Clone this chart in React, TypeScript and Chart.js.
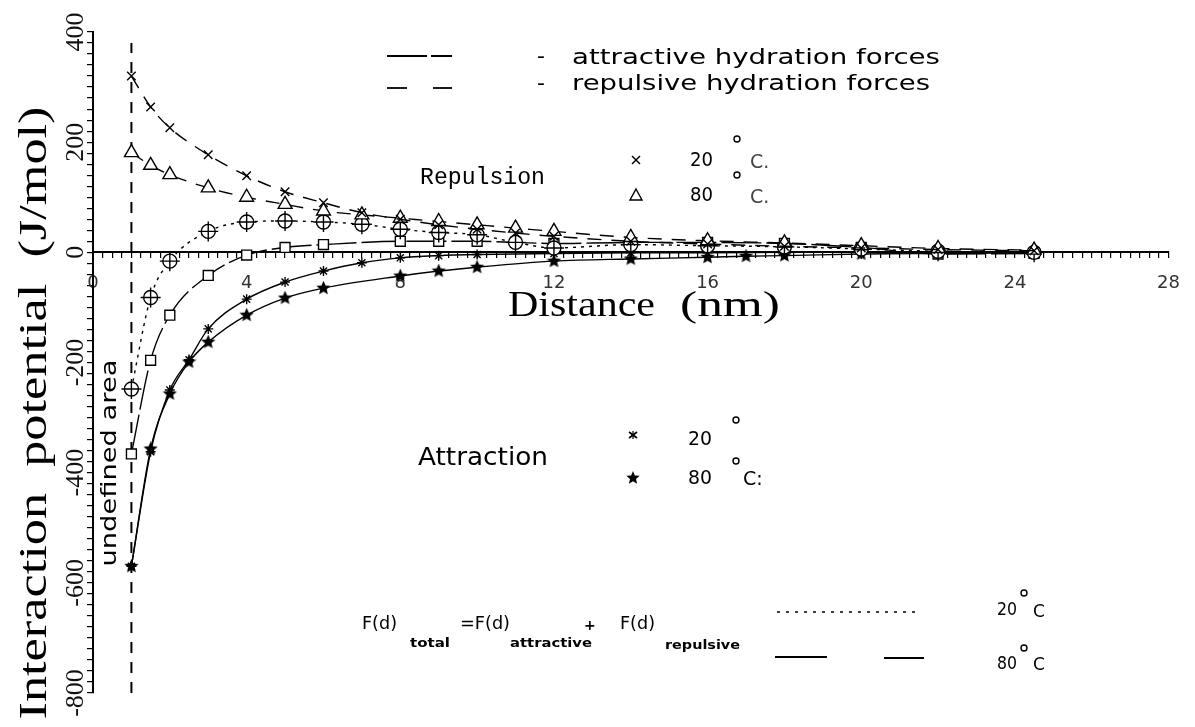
import { useEffect, useRef } from 'react';
import { Chart, registerables } from 'chart.js';

Chart.register(...registerables);

// ---------------- data ----------------
const xTickValues = [0, 4, 8, 12, 16, 20, 24, 28];
const xTickLabels = ['0', '4', '8', '12', '16', '20', '24', '28'];
const yTickValues = [400, 200, 0, -200, -400, -600, -800];
const yTickLabels = ['400', '200', '0', '-200', '-400', '-600', '-800'];

// repulsive hydration forces
const repX = [1, 1.5, 2, 3, 4, 5, 6, 7, 8, 9, 10, 11, 12, 14, 16, 18, 20, 22, 24.5];
const rep20 = [320, 264, 226, 177, 139, 110, 90, 72, 60, 50, 42, 35, 29, 20, 15, 11, 8, 5, 3];
const rep80 = [181, 158, 141, 117, 100, 87, 75, 68, 62, 56, 50, 44, 38, 27, 21, 17, 12, 7, 4];

// total forces
const total20X = [1, 1.5, 2, 3, 4, 5, 6, 7, 8, 9, 10, 11, 12, 14, 16, 18, 20, 22, 24.5];
const total20 = [-248, -82, -16, 38, 55, 57, 55, 51, 42, 36, 32, 18, 8, 14, 12, 10, 6, 2, 0];
const total80X = [1, 1.5, 2, 3, 4, 5, 6, 8, 9, 10, 11, 12, 14, 16, 18, 20, 22, 24.5];
const total80 = [-366, -196, -114, -42, -5, 9, 14, 20, 20, 20, 18, 16, 18, 18, 16, 9, -3, -2];

// attractive hydration forces
const att20X = [1, 1.5, 2, 2.5, 3, 4, 5, 6, 7, 8, 9, 10, 12, 14, 16, 18, 20, 22, 24.5];
const att20 = [-570, -362, -250, -195, -139, -85, -54, -34, -19, -10, -6, -4, -2, -1, -1, 0, 0, 0, 0];
const att80X = [1, 1.5, 2, 2.5, 3, 4, 5, 6, 8, 9, 10, 12, 14, 16, 17, 18, 20, 22, 24.5];
const att80 = [-570, -357, -257, -199, -163, -114, -83, -65, -43, -34, -27, -16, -12, -9, -7, -6, -3, -2, -1];

// "undefined area" boundary
const boundaryX = [1, 1];
const boundaryY = [-800, 380];

const pts = (xs: number[], ys: number[]) => xs.map((x, i) => ({ x, y: ys[i] }));

function makeStar(size: number): HTMLCanvasElement {
  const c = document.createElement('canvas');
  c.width = size;
  c.height = size;
  const g = c.getContext('2d')!;
  g.fillStyle = '#000';
  starPath(g, size / 2, size / 2, size / 2);
  g.fill();
  return c;
}

function starPath(g: CanvasRenderingContext2D, cx: number, cy: number, r: number) {
  g.beginPath();
  for (let i = 0; i < 10; i++) {
    const rr = i % 2 ? r * 0.45 : r;
    const a = -Math.PI / 2 + (i * Math.PI) / 5;
    const px = cx + rr * Math.cos(a);
    const py = cy + rr * Math.sin(a);
    if (i === 0) g.moveTo(px, py);
    else g.lineTo(px, py);
  }
  g.closePath();
}

type PutOpts = { w?: number; align?: CanvasTextAlign; base?: CanvasTextBaseline; rot?: number; color?: string };
function put(ctx: CanvasRenderingContext2D, s: string, x: number, y: number, font: string, o: PutOpts = {}) {
  ctx.save();
  ctx.font = font;
  ctx.fillStyle = o.color ?? '#000';
  ctx.textAlign = o.align ?? 'left';
  ctx.textBaseline = o.base ?? 'middle';
  ctx.translate(x, y);
  if (o.rot) ctx.rotate(o.rot);
  if (o.w) {
    const m = ctx.measureText(s).width;
    if (m > 0) ctx.scale(o.w / m, 1);
  }
  ctx.fillText(s, 0, 0);
  ctx.restore();
}

function seg(ctx: CanvasRenderingContext2D, x1: number, y1: number, x2: number, y2: number, w = 1.6, dash: number[] = []) {
  ctx.save();
  ctx.strokeStyle = '#000';
  ctx.lineWidth = w;
  ctx.setLineDash(dash);
  ctx.beginPath();
  ctx.moveTo(x1, y1);
  ctx.lineTo(x2, y2);
  ctx.stroke();
  ctx.restore();
}

function deg(ctx: CanvasRenderingContext2D, x: number, y: number, r = 3) {
  ctx.save();
  ctx.strokeStyle = '#000';
  ctx.lineWidth = 1.4;
  ctx.beginPath();
  ctx.arc(x, y, r, 0, Math.PI * 2);
  ctx.stroke();
  ctx.restore();
}

const annotations = {
  id: 'annotations',
  afterDraw(chart: any) {
    const ctx: CanvasRenderingContext2D = chart.ctx;
    const sans = 'DejaVu Sans';
    const serif = 'Liberation Serif';
    const mono = 'Liberation Mono';

    // axis titles
    put(ctx, 'Interaction  potential  (J/mol)', 46, 413, `40px "${serif}"`, { align: 'center', base: 'alphabetic', rot: -Math.PI / 2, w: 613 });
    put(ctx, 'Distance', 508, 316, `36px "${serif}"`, { base: 'alphabetic', w: 147 });
    put(ctx, '(nm)', 680, 316, `36px "${serif}"`, { base: 'alphabetic', w: 100 });

    // undefined area
    put(ctx, 'undefined area', 111, 463, `21px "${sans}"`, { align: 'center', rot: -Math.PI / 2, w: 207 });

    // top legend
    seg(ctx, 387, 56, 452, 56, 1.8, [40, 4]);
    put(ctx, '-', 537, 57, `22px "${sans}"`);
    put(ctx, 'attractive hydration forces', 572, 58, `22px "${sans}"`, { w: 368 });
    seg(ctx, 387, 88, 407, 88, 1.8);
    seg(ctx, 433, 88, 452, 88, 1.8);
    put(ctx, '-', 537, 84, `22px "${sans}"`);
    put(ctx, 'repulsive hydration forces', 572, 84, `22px "${sans}"`, { w: 358 });

    // Repulsion legend
    put(ctx, 'Repulsion', 420, 178, `24px "${mono}"`, { w: 125 });
    seg(ctx, 632, 156, 640, 164, 1.4);
    seg(ctx, 632, 164, 640, 156, 1.4);
    put(ctx, '20', 690, 161, `19px "${sans}"`, { w: 23 });
    deg(ctx, 737, 139);
    put(ctx, 'C.', 750, 163, `19px "${sans}"`, { color: '#444' });
    ctx.save();
    ctx.strokeStyle = '#000';
    ctx.lineWidth = 1.4;
    ctx.beginPath();
    ctx.moveTo(636, 189);
    ctx.lineTo(642, 200);
    ctx.lineTo(630, 200);
    ctx.closePath();
    ctx.stroke();
    ctx.restore();
    put(ctx, '80', 690, 196, `19px "${sans}"`, { w: 23 });
    deg(ctx, 737, 175);
    put(ctx, 'C.', 750, 198, `19px "${sans}"`, { color: '#444' });

    // Attraction legend
    put(ctx, 'Attraction', 418, 459, `24px "${sans}"`, { w: 130 });
    seg(ctx, 629, 432, 637, 438, 1.6);
    seg(ctx, 629, 438, 637, 432, 1.6);
    seg(ctx, 633, 431, 633, 439, 1.2);
    put(ctx, '20', 688, 440, `19px "${sans}"`, { w: 24 });
    deg(ctx, 736, 420);
    ctx.save();
    ctx.fillStyle = '#000';
    starPath(ctx, 633, 478, 7);
    ctx.fill();
    ctx.restore();
    put(ctx, '80', 688, 479, `19px "${sans}"`, { w: 24 });
    deg(ctx, 736, 461);
    put(ctx, 'C:', 743, 480, `19px "${sans}"`);

    // formula
    put(ctx, 'F(d)', 362, 625, `17px "${sans}"`, { w: 35 });
    put(ctx, 'total', 410, 644, `bold 13px "${sans}"`, { w: 40 });
    put(ctx, '=F(d)', 460, 625, `17px "${sans}"`, { w: 50 });
    put(ctx, 'attractive', 510, 644, `bold 13px "${sans}"`, { w: 82 });
    put(ctx, '+', 584, 626, `bold 14px "${sans}"`);
    put(ctx, 'F(d)', 620, 625, `17px "${sans}"`, { w: 35 });
    put(ctx, 'repulsive', 665, 646, `bold 13px "${sans}"`, { w: 75 });

    // total legend
    seg(ctx, 777, 612, 920, 612, 1.6, [3, 6]);
    put(ctx, '20', 997, 611, `17px "${sans}"`, { w: 20 });
    deg(ctx, 1024, 593);
    put(ctx, 'C', 1033, 613, `17px "${sans}"`);
    seg(ctx, 775, 657, 827, 657, 1.8);
    seg(ctx, 884, 658, 924, 658, 1.8);
    put(ctx, '80', 997, 665, `17px "${sans}"`, { w: 20 });
    deg(ctx, 1024, 648);
    put(ctx, 'C', 1033, 666, `17px "${sans}"`);
  },
};

export default function App() {
  const ref = useRef<HTMLCanvasElement>(null);

  useEffect(() => {
    const canvas = ref.current!;
    const star = makeStar(15);
    const line = {
      showLine: true,
      borderColor: '#000',
      borderWidth: 1.4,
      pointBorderColor: '#000',
      pointBorderWidth: 1.4,
      pointBackgroundColor: '#fff',
      cubicInterpolationMode: 'monotone' as const,
    };
    const chart = new Chart(canvas, {
      type: 'scatter',
      data: {
        datasets: [
          { ...line, label: 'Repulsion 20 °C', data: pts(repX, rep20), borderDash: [14, 10], pointStyle: 'crossRot', pointRadius: 6 },
          { ...line, label: 'Repulsion 80 °C', data: pts(repX, rep80), borderDash: [14, 10], pointStyle: 'triangle', pointRadius: 8 },
          { ...line, label: 'Total 20 °C (cross)', data: pts(total20X, total20), showLine: false, pointStyle: 'cross', pointRadius: 10 },
          { ...line, label: 'Total 20 °C', data: pts(total20X, total20), borderDash: [3, 5], pointStyle: 'circle', pointRadius: 7 },
          { ...line, label: 'Total 80 °C', data: pts(total80X, total80), borderDash: [40, 5], pointStyle: 'rect', pointRadius: 7 },
          { ...line, label: 'Attraction 20 °C', data: pts(att20X, att20), pointStyle: 'star', pointRadius: 5 },
          { ...line, label: 'Attraction 80 °C', data: pts(att80X, att80), pointStyle: star as any, pointRadius: 7 },
          { ...line, label: 'undefined area', data: pts(boundaryX, boundaryY), borderDash: [11, 9], borderWidth: 2, pointRadius: 0, cubicInterpolationMode: 'default' as const },
        ],
      },
      options: {
        responsive: false,
        animation: false,
        layout: { padding: { left: 0, right: 18, top: 32, bottom: 34 } },
        plugins: { legend: { display: false }, tooltip: { enabled: false }, title: { display: false } },
        scales: {
          x: {
            type: 'linear',
            min: 0,
            max: 28,
            position: { y: 0 } as any,
            border: { display: true, color: '#000', width: 2 },
            grid: { drawOnChartArea: false, drawTicks: true, tickLength: 5, color: '#000', tickColor: '#000', lineWidth: 1.2 },
            ticks: {
              stepSize: 0.25,
              autoSkip: false,
              maxRotation: 0,
              minRotation: 0,
              padding: 15,
              color: '#333',
              font: { family: 'DejaVu Sans', size: 18 },
              callback: (v: any) => {
                const i = xTickValues.indexOf(Number(v));
                return i >= 0 ? xTickLabels[i] : '';
              },
            },
          },
          y: {
            type: 'linear',
            min: -800,
            max: 400,
            position: 'left',
            afterFit: (s: any) => {
              s.width = 93;
            },
            border: { display: true, color: '#000', width: 2 },
            grid: { drawOnChartArea: false, drawTicks: true, tickLength: 6, color: '#000', tickColor: '#000', lineWidth: 1.2 },
            ticks: {
              stepSize: 20,
              autoSkip: false,
              minRotation: 90,
              maxRotation: 90,
              crossAlign: 'center',
              padding: -13,
              color: '#111',
              font: { family: 'Liberation Serif', size: 26 },
              callback: (v: any) => {
                const i = yTickValues.indexOf(Number(v));
                return i >= 0 ? yTickLabels[i] : '';
              },
            },
          },
        },
      },
      plugins: [annotations],
    });
    return () => chart.destroy();
  }, []);

  return (
    <div style={{ position: 'absolute', left: 0, top: 0, width: 1195, height: 727, background: '#fff' }}>
      <canvas ref={ref} width={1195} height={727} style={{ display: 'block' }} />
    </div>
  );
}
